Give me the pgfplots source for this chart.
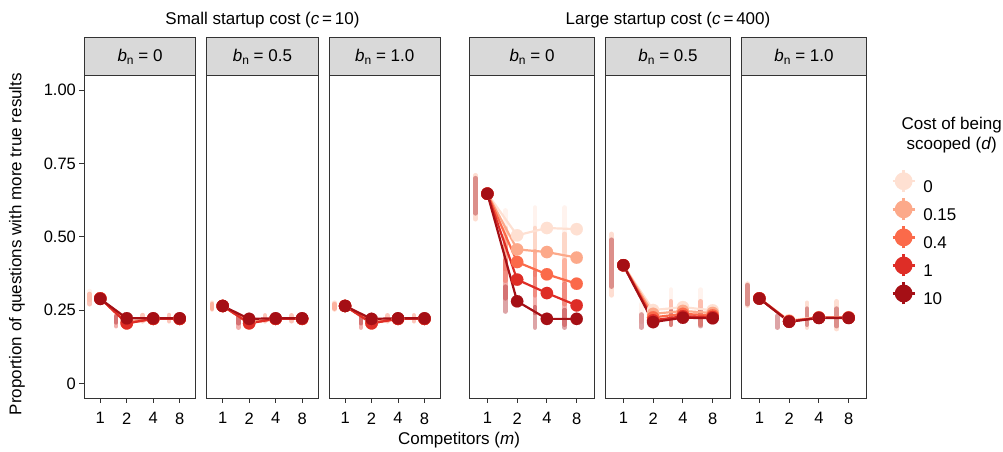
\documentclass[border=0pt]{standalone}
\usepackage{fontspec}
\setmainfont{Liberation Sans}
\usepackage{pgfplots}
\pgfplotsset{compat=1.18}
\definecolor{r0}{HTML}{FEE0D2}
\definecolor{r1}{HTML}{FCA98A}
\definecolor{r2}{HTML}{FB6A4A}
\definecolor{r3}{HTML}{DE2D26}
\definecolor{r4}{HTML}{A50F15}
\definecolor{stripgray}{HTML}{D9D9D9}
\definecolor{axisgray}{HTML}{333333}
\newcommand{\basefont}{\fontsize{17}{20}\selectfont}
\newcommand{\ser}[2]{\addplot[color=#1, line width=2.2pt, mark=*, mark size=6.2pt, mark options={solid, fill=#1, draw=#1, line width=0.1pt}] coordinates {#2};}
\newcommand{\stk}[4]{\addplot[forget plot, color=#1, line width=4.6pt, line cap=round, opacity=0.38, no marks] coordinates {(#2,#3) (#2,#4)};}
\newcommand{\strip}[1]{\draw[fill=stripgray, line width=1pt, draw=axisgray] (rel axis cs:0,1) rectangle ([yshift=37.6pt]rel axis cs:1,1); \node[font=\basefont] at ([yshift=18.8pt]rel axis cs:0.5,1) {#1};}
\newcommand{\bn}[1]{\textit{b}\raisebox{-3.5pt}{\fontsize{12}{13}\selectfont n} = #1}
\pgfplotsset{panel/.style={scale only axis, anchor=south west, height=322.4pt,
  xmin=-0.6, xmax=3.6, ymin=-0.05, ymax=1.05,
  xtick={0,1,2,3}, xticklabels={1,2,4,8}, xtick pos=bottom, ytick pos=left,
  tick align=outside, major tick length=5pt,
  axis line style={draw=axisgray, line width=1pt},
  tick style={draw=axisgray, line width=1pt},
  tick label style={font=\fontsize{16.5}{18}\selectfont, text=black},
  xticklabel style={yshift=-6pt},
  ytick=\empty, clip=false, /pgf/number format/assume math mode=true}}
\begin{document}
\begin{tikzpicture}
\useasboundingbox (0,0) rectangle (1003pt,452pt);
% ---------- Small startup cost, b=0
\begin{axis}[panel, at={(84.4pt,54pt)}, width=111.2pt,
  ytick={0,0.25,0.5,0.75,1}, yticklabels={0,0.25,0.50,0.75,1.00}]
\stk{r0}{-0.4}{0.285}{0.315}
\stk{r2}{-0.4}{0.27}{0.305}
\stk{r3}{0.6}{0.195}{0.232}
\stk{r4}{0.6}{0.208}{0.228}
\stk{r2}{1.6}{0.212}{0.233}
\stk{r2}{2.6}{0.212}{0.233}
\ser{r0}{(0,0.29) (1,0.21) (2,0.22) (3,0.22)}
\ser{r1}{(0,0.29) (1,0.21) (2,0.22) (3,0.22)}
\ser{r2}{(0,0.29) (1,0.205) (2,0.22) (3,0.22)}
\ser{r3}{(0,0.29) (1,0.205) (2,0.22) (3,0.22)}
\ser{r4}{(0,0.288) (1,0.222) (2,0.222) (3,0.222)}
\strip{\bn{0}}
\end{axis}
% ---------- Small, b=0.5
\begin{axis}[panel, at={(206.8pt,54pt)}, width=111.2pt]
\stk{r1}{-0.4}{0.252}{0.275}
\stk{r2}{-0.4}{0.255}{0.27}
\stk{r3}{0.6}{0.19}{0.23}
\stk{r4}{0.6}{0.205}{0.228}
\stk{r2}{1.6}{0.212}{0.232}
\stk{r2}{2.6}{0.212}{0.232}
\ser{r0}{(0,0.264) (1,0.21) (2,0.22) (3,0.22)}
\ser{r1}{(0,0.264) (1,0.21) (2,0.22) (3,0.22)}
\ser{r2}{(0,0.264) (1,0.205) (2,0.22) (3,0.22)}
\ser{r3}{(0,0.264) (1,0.205) (2,0.22) (3,0.22)}
\ser{r4}{(0,0.264) (1,0.22) (2,0.222) (3,0.222)}
\strip{\bn{0.5}}
\end{axis}
% ---------- Small, b=1.0
\begin{axis}[panel, at={(329.2pt,54pt)}, width=111.2pt]
\stk{r1}{-0.4}{0.252}{0.275}
\stk{r2}{-0.4}{0.255}{0.27}
\stk{r3}{0.6}{0.19}{0.23}
\stk{r4}{0.6}{0.205}{0.228}
\stk{r2}{1.6}{0.212}{0.232}
\stk{r2}{2.6}{0.212}{0.232}
\ser{r0}{(0,0.264) (1,0.21) (2,0.22) (3,0.22)}
\ser{r1}{(0,0.264) (1,0.21) (2,0.22) (3,0.22)}
\ser{r2}{(0,0.264) (1,0.205) (2,0.22) (3,0.22)}
\ser{r3}{(0,0.264) (1,0.205) (2,0.22) (3,0.22)}
\ser{r4}{(0,0.264) (1,0.22) (2,0.222) (3,0.222)}
\strip{\bn{1.0}}
\end{axis}
% ---------- Large startup cost, b=0
\begin{axis}[panel, at={(469.5pt,54pt)}, width=125pt]
\stk{r1}{-0.4}{0.56}{0.71}
\stk{r4}{-0.4}{0.58}{0.70}
\stk{r0}{0.6}{0.44}{0.59}
\stk{r1}{0.6}{0.39}{0.53}
\stk{r2}{0.6}{0.35}{0.49}
\stk{r3}{0.6}{0.29}{0.42}
\stk{r4}{0.6}{0.245}{0.33}
\stk{r0}{1.6}{0.45}{0.60}
\stk{r1}{1.6}{0.37}{0.53}
\stk{r2}{1.6}{0.30}{0.45}
\stk{r3}{1.6}{0.24}{0.38}
\stk{r4}{1.6}{0.19}{0.26}
\stk{r0}{2.6}{0.45}{0.60}
\stk{r1}{2.6}{0.35}{0.51}
\stk{r2}{2.6}{0.27}{0.42}
\stk{r3}{2.6}{0.20}{0.34}
\stk{r4}{2.6}{0.19}{0.25}
\ser{r0}{(0,0.647) (1,0.505) (2,0.53) (3,0.526)}
\ser{r1}{(0,0.647) (1,0.457) (2,0.448) (3,0.429)}
\ser{r2}{(0,0.647) (1,0.414) (2,0.372) (3,0.34)}
\ser{r3}{(0,0.647) (1,0.354) (2,0.308) (3,0.266)}
\ser{r4}{(0,0.647) (1,0.28) (2,0.22) (3,0.22)}
\strip{\bn{0}}
\end{axis}
% ---------- Large, b=0.5
\begin{axis}[panel, at={(605.5pt,54pt)}, width=125pt]
\stk{r1}{-0.4}{0.30}{0.51}
\stk{r4}{-0.4}{0.33}{0.49}
\stk{r0}{0.6}{0.21}{0.27}
\stk{r4}{0.6}{0.19}{0.235}
\stk{r0}{1.6}{0.22}{0.32}
\stk{r2}{1.6}{0.20}{0.28}
\stk{r4}{1.6}{0.20}{0.25}
\stk{r0}{2.6}{0.20}{0.32}
\stk{r2}{2.6}{0.20}{0.28}
\stk{r4}{2.6}{0.195}{0.25}
\ser{r0}{(0,0.403) (1,0.25) (2,0.26) (3,0.249)}
\ser{r1}{(0,0.403) (1,0.237) (2,0.247) (3,0.24)}
\ser{r2}{(0,0.403) (1,0.225) (2,0.237) (3,0.232)}
\ser{r3}{(0,0.403) (1,0.215) (2,0.229) (3,0.226)}
\ser{r4}{(0,0.403) (1,0.209) (2,0.224) (3,0.222)}
\strip{\bn{0.5}}
\end{axis}
% ---------- Large, b=1.0
\begin{axis}[panel, at={(741.5pt,54pt)}, width=125pt,
  legend image code/.code={
    \draw[#1, line width=2.4pt] (-11pt,6pt) -- (11pt,6pt);
    \draw[#1, line width=2.4pt] (0pt,-5pt) -- (0pt,17pt);
    \fill[#1] (0pt,6pt) circle (7.8pt);},
  legend cell align=left,
  legend style={draw=none, fill=none, at={(1.174,0.717)}, anchor=north west,
    font=\basefont, row sep=3.2pt, column sep=7.4pt, nodes={inner sep=0pt}}]
\stk{r1}{-0.4}{0.265}{0.34}
\stk{r4}{-0.4}{0.27}{0.335}
\stk{r4}{0.6}{0.19}{0.23}
\stk{r1}{1.6}{0.19}{0.275}
\stk{r4}{1.6}{0.20}{0.255}
\stk{r1}{2.6}{0.185}{0.28}
\stk{r4}{2.6}{0.195}{0.255}
\ser{r0}{(0,0.29) (1,0.215) (2,0.226) (3,0.226)}
\ser{r1}{(0,0.29) (1,0.213) (2,0.225) (3,0.225)}
\ser{r2}{(0,0.29) (1,0.212) (2,0.224) (3,0.224)}
\ser{r3}{(0,0.29) (1,0.211) (2,0.224) (3,0.224)}
\ser{r4}{(0,0.289) (1,0.21) (2,0.223) (3,0.223)}
\legend{0,0.15,0.4,1,10}
\strip{\bn{1.0}}
\end{axis}
% ---------- texts
\node[font=\basefont] at (262.5pt,432pt) {Small startup cost (\textit{c}\,=\,10)};
\node[font=\basefont] at (668pt,432pt) {Large startup cost (\textit{c}\,=\,400)};
\node[font=\basefont] at (459pt,12pt) {Competitors (\textit{m})};
\node[font=\basefont, rotate=90] at (17pt,208pt) {Proportion of questions with more true results};
\node[font=\basefont, align=center] at (951.7pt,317pt) {Cost of being\\scooped (\textit{d})};
\end{tikzpicture}
\end{document}
